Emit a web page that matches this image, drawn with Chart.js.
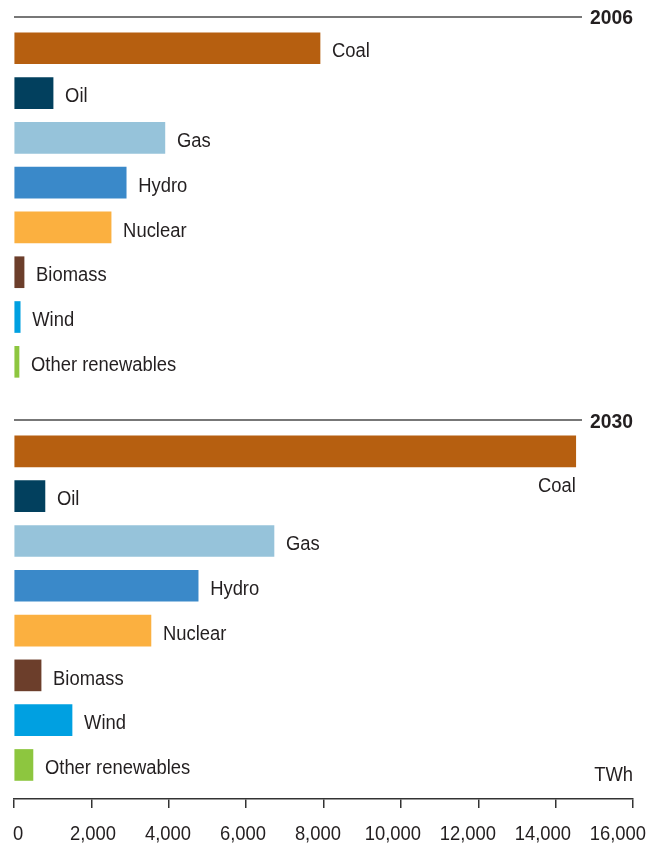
<!DOCTYPE html>
<html>
<head>
<meta charset="utf-8">
<script src="https://cdn.jsdelivr.net/npm/chart.js@4.4.1/dist/chart.umd.min.js"></script>
<style>
  html, body { margin: 0; padding: 0; background: #fff; }
  canvas { display: block; }
</style>
</head>
<body>
<canvas id="chart" width="663" height="850"></canvas>
<script>
const categories = ["Coal", "Oil", "Gas", "Hydro", "Nuclear", "Biomass", "Wind", "Other renewables"];
const years = ["2006", "2030"];
const values2006 = [7910, 1010, 3900, 2900, 2510, 260, 160, 130];
const values2030 = [14520, 800, 6720, 4760, 3540, 700, 1500, 490];
const xTicks = [0, 2000, 4000, 6000, 8000, 10000, 12000, 14000, 16000];
const unit = "TWh";

const colors = ["#b65f10", "#02405e", "#96c3da", "#3a89c9", "#fbb040", "#6c3e2b", "#00a0e1", "#8dc63f"];
const ink = "#231f20";
const FONT = "Liberation Sans, Arial, sans-serif";
const SQUEEZE = 0.92; // fake a condensed face

// each panel takes 9 rows: 8 bars + one gap row
const rows = [];
values2006.forEach((v, i) => rows.push({ x: v, y: i, cat: i, panel: 0 }));
values2030.forEach((v, i) => rows.push({ x: v, y: i + 9, cat: i, panel: 1 }));

function squeezedText(ctx, text, x, y, align) {
    ctx.save();
    ctx.translate(x, y);
    ctx.scale(SQUEEZE, 1);
    ctx.textAlign = align || "left";
    ctx.fillText(text, 0, 0);
    ctx.restore();
}

const decorations = {
    id: "decorations",
    afterDraw(chart) {
        const ctx = chart.ctx;
        const xs = chart.scales.x, ys = chart.scales.y;
        const area = chart.chartArea;
        ctx.save();
        ctx.fillStyle = ink;
        ctx.textBaseline = "alphabetic";

        // panel rules + year titles
        years.forEach((yr, p) => {
            const y = ys.getPixelForValue(p * 9 - 0.7);
            ctx.font = "bold 21px " + FONT;
            const w = ctx.measureText(yr).width * SQUEEZE;
            ctx.strokeStyle = "#4a4a4a";
            ctx.lineWidth = 1.5;
            ctx.beginPath();
            ctx.moveTo(area.left, y);
            ctx.lineTo(area.right - w - 8, y);
            ctx.stroke();
            squeezedText(ctx, yr, area.right, y + 7.5, "right");
        });

        // bar labels
        ctx.font = "20px " + FONT;
        const bars = chart.getDatasetMeta(0).data;
        bars.forEach((bar, i) => {
            const r = rows[i];
            const name = categories[r.cat];
            if (bar.x > area.left + (area.right - area.left) * 0.85) {
                // long bar: label sits underneath, flush with its end
                squeezedText(ctx, name, bar.x, bar.y + 15 + 26, "right");
            } else {
                squeezedText(ctx, name, bar.x + 12, bar.y + 2 + 7.2, "left");
            }
        });

        // axis tick labels (the original's labels drift slightly left of their ticks)
        xs.ticks.forEach(t => {
            const px = xs.getPixelForValue(t.value);
            const cx = px + 4 - (px - area.left) * 0.031;
            squeezedText(ctx, t.value.toLocaleString("en-US"), cx, area.bottom + 41, "center");
        });

        squeezedText(ctx, unit, area.right, area.bottom - 18, "right");
        ctx.restore();
    }
};

new Chart(document.getElementById("chart"), {
    type: "bar",
    data: {
        datasets: [{
            data: rows,
            backgroundColor: rows.map(r => colors[r.cat]),
            barThickness: 31,
            borderWidth: 0
        }]
    },
    options: {
        indexAxis: "y",
        responsive: false,
        animation: false,
        layout: { padding: { left: 14, right: 30, top: 16, bottom: 42 } },
        plugins: { legend: { display: false }, tooltip: { enabled: false } },
        scales: {
            x: {
                type: "linear",
                position: "bottom",
                min: 0,
                max: 16000,
                afterBuildTicks: s => { s.ticks = xTicks.map(v => ({ value: v })); },
                ticks: { display: false },
                border: { display: true, color: "#333", width: 1.5 },
                grid: { drawOnChartArea: false, drawTicks: true, tickLength: 9, color: "#333", lineWidth: 1.5 }
            },
            y: {
                type: "linear",
                reverse: true,
                offset: false,
                min: -0.72,
                max: 16.76,
                display: false
            }
        }
    },
    plugins: [decorations]
});
</script>
</body>
</html>
